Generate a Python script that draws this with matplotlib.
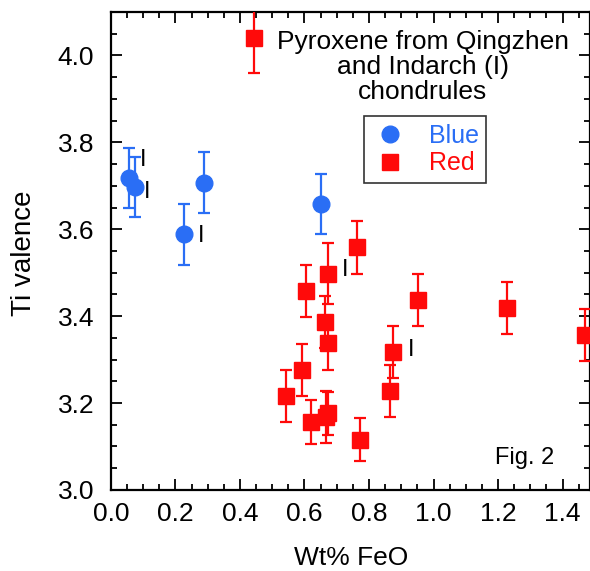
import matplotlib
matplotlib.use('Agg')
import matplotlib.pyplot as plt
from matplotlib.ticker import MultipleLocator
from matplotlib.lines import Line2D

plt.rcParams['font.family'] = ['Liberation Sans', 'DejaVu Sans']

# 蓝色辉石 (Blue)
blue_feo = [0.057, 0.075, 0.227, 0.287, 0.651]
blue_ti = [3.718, 3.697, 3.588, 3.707, 3.658]
blue_err = [0.07, 0.07, 0.07, 0.07, 0.07]

# 红色辉石 (Red)
red_feo = [0.443, 0.764, 0.672, 0.606, 0.665, 0.674, 0.953, 1.229, 1.470,
           0.875, 0.593, 0.866, 0.544, 0.621, 0.666, 0.672, 0.772]
red_ti = [4.039, 3.558, 3.498, 3.457, 3.387, 3.337, 3.437, 3.418, 3.356,
          3.317, 3.276, 3.227, 3.217, 3.156, 3.167, 3.176, 3.116]
red_err = [0.08, 0.06, 0.07, 0.06, 0.06, 0.06, 0.06, 0.06, 0.06,
           0.06, 0.06, 0.06, 0.06, 0.05, 0.06, 0.05, 0.05]

# Indarch 样品标记 "I"
indarch_feo = [0.057, 0.075, 0.227, 0.672, 0.875]
indarch_ti = [3.718, 3.697, 3.588, 3.498, 3.317]

blue_c = '#2a6ef5'
red_c = '#ff0a0a'

fig = plt.figure(figsize=(5.9, 5.71), dpi=100)
ax = fig.add_axes([0.188, 0.142, 0.812, 0.837])

ax.errorbar(blue_feo, blue_ti, yerr=blue_err, fmt='o', color=blue_c, ms=12,
            mec=blue_c, ecolor=blue_c, elinewidth=1.6, capsize=4, capthick=1.6,
            zorder=3)
ax.errorbar(red_feo, red_ti, yerr=red_err, fmt='s', color=red_c, ms=12,
            mec=red_c, ecolor=red_c, elinewidth=1.6, capsize=4, capthick=1.6,
            zorder=3)

# "I" 标签 (相对数据点的偏移)
offsets = [(0.044, 0.042), (0.038, -0.012), (0.052, -0.004), (0.054, 0.008), (0.057, 0.005)]
for x, y, (dx, dy) in zip(indarch_feo, indarch_ti, offsets):
    ax.text(x + dx, y + dy, 'I', fontsize=17, va='center', ha='center', color='black')

ax.set_xlim(0, 1.485)
ax.set_ylim(3.0, 4.1)
ax.xaxis.set_major_locator(MultipleLocator(0.2))
ax.xaxis.set_minor_locator(MultipleLocator(0.05))
ax.yaxis.set_major_locator(MultipleLocator(0.2))
ax.yaxis.set_minor_locator(MultipleLocator(0.05))
ax.tick_params(which='both', direction='in', top=True, right=True, width=1.3)
ax.tick_params(which='major', length=8, labelsize=19)
ax.tick_params(axis='x', which='major', pad=9)
ax.tick_params(axis='y', which='major', pad=12)
ax.tick_params(which='minor', length=4)
ax.set_xticklabels([f'{v:.1f}' for v in ax.get_xticks()])
ax.set_yticklabels([f'{v:.1f}' for v in ax.get_yticks()])
for s in ax.spines.values():
    s.set_linewidth(1.6)

# 坐标轴标题 (手动定位)
fig.text(0.595, 0.022, 'Wt% FeO', fontsize=19, ha='center', va='center')
fig.text(0.041, 0.557, 'Ti valence', fontsize=20, ha='center', va='center', rotation=90)

ax.text(0.651, 0.963, 'Pyroxene from Qingzhen\nand Indarch (I)\nchondrules',
        transform=ax.transAxes, ha='center', va='top', fontsize=19, linespacing=1.07)
ax.text(0.864, 0.067, 'Fig. 2', transform=ax.transAxes, ha='center', va='center', fontsize=17)

handles = [Line2D([], [], marker='o', ls='none', color=blue_c, ms=12),
           Line2D([], [], marker='s', ls='none', color=red_c, ms=12)]
leg = ax.legend(handles, ['Blue', 'Red'], loc='upper left', bbox_to_anchor=(0.528, 0.782),
                fontsize=18, frameon=True, fancybox=False, edgecolor='black',
                handletextpad=0.8, borderpad=0.3, labelspacing=0.15, handlelength=1.5,
                borderaxespad=0)
leg.get_frame().set_linewidth(1.2)
for t, c in zip(leg.get_texts(), [blue_c, red_c]):
    t.set_color(c)

fig.savefig('out.png', dpi=100)
